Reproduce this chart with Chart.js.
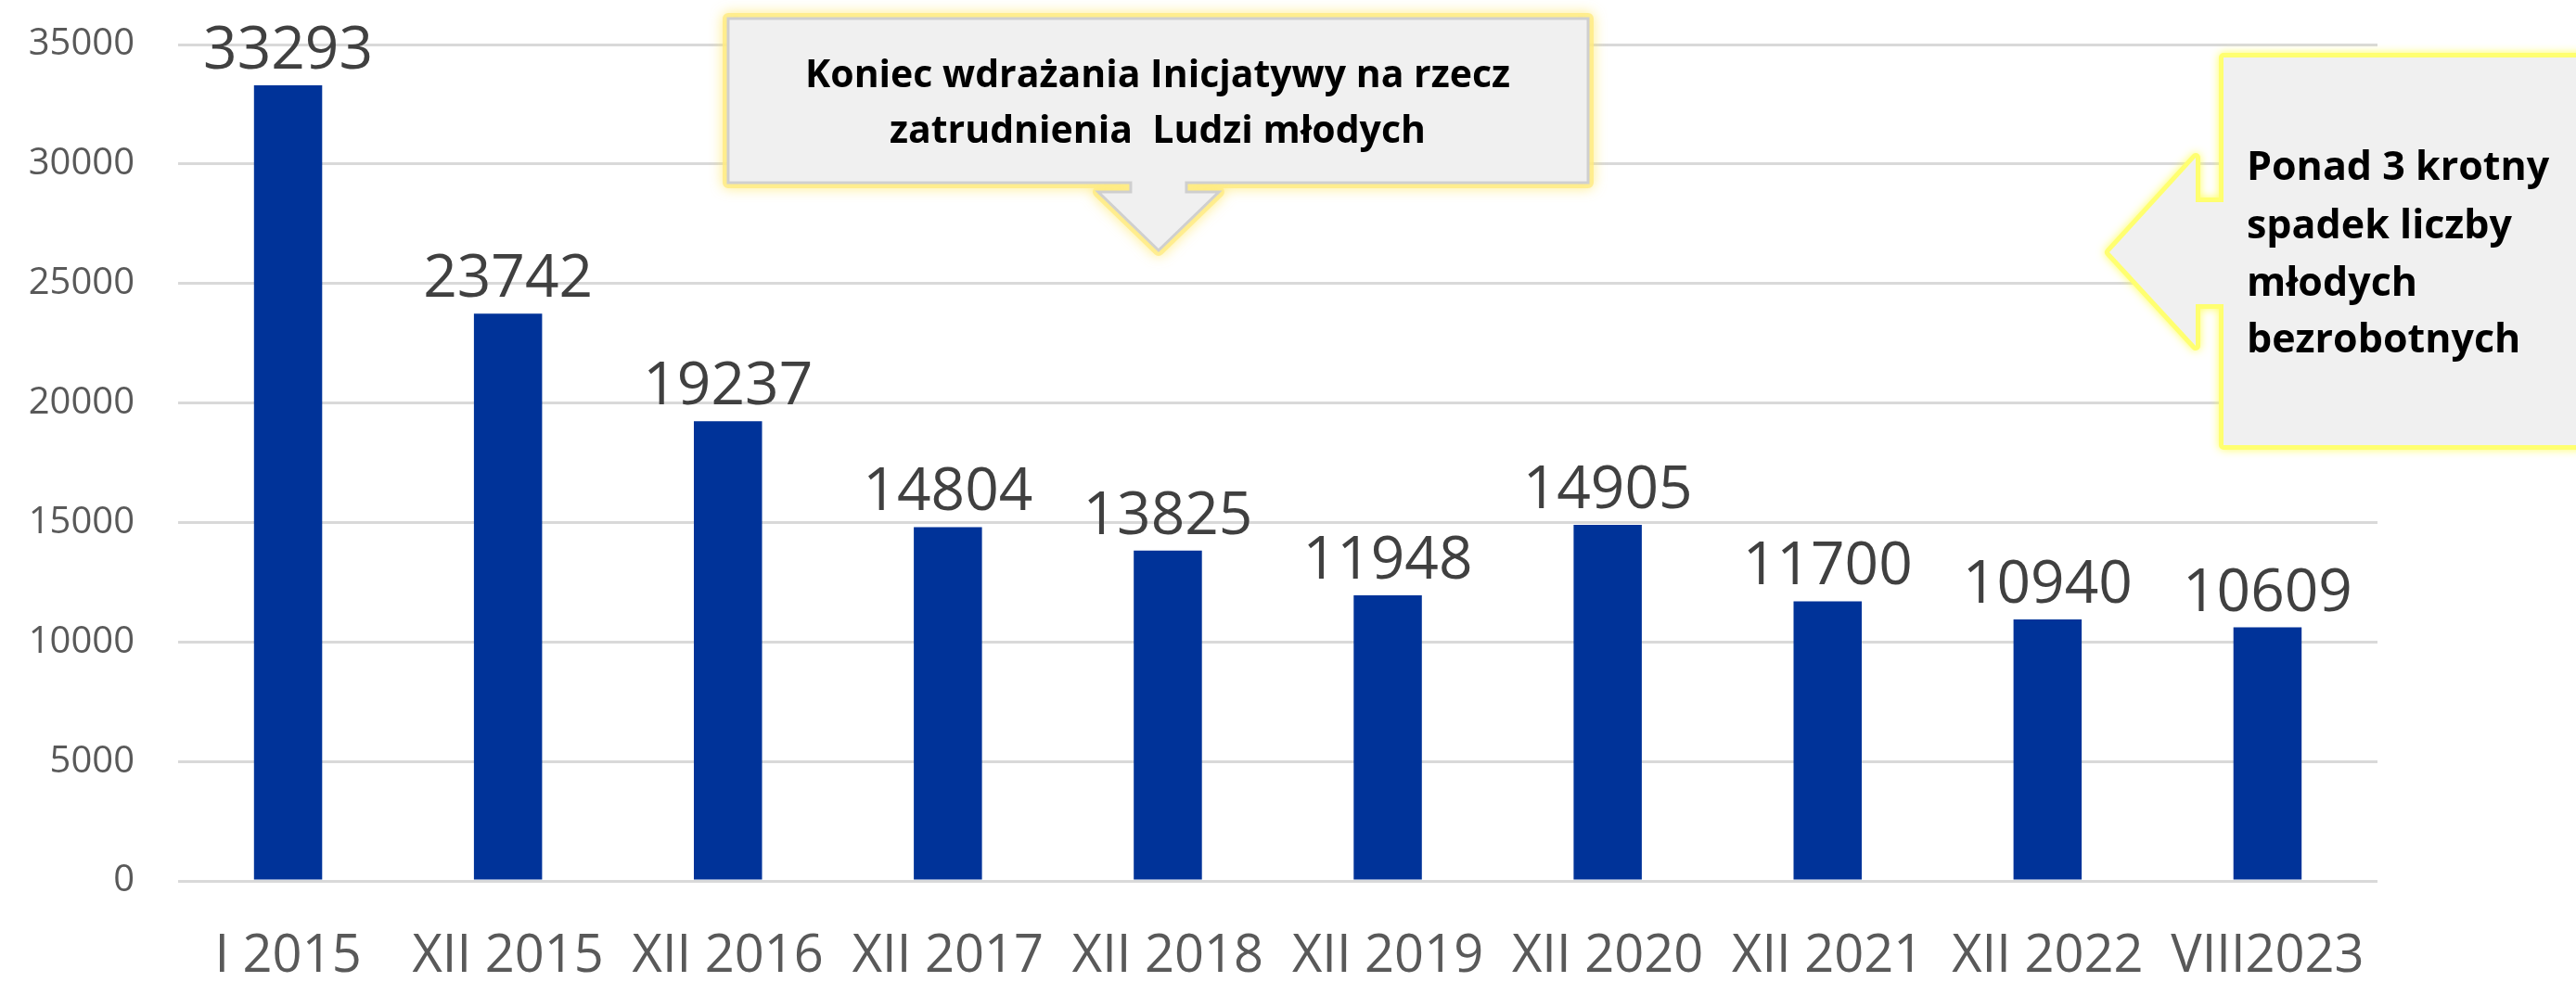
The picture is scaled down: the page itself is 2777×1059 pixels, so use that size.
<!DOCTYPE html>
<html>
<head>
<meta charset="utf-8">
<script src="https://cdn.jsdelivr.net/npm/chart.js@4/dist/chart.umd.min.js"></script>
<style>
  html, body { margin: 0; padding: 0; background: #ffffff; }
  #wrap { width: 2777px; height: 1059px; }
</style>
</head>
<body>
<div id="wrap"><canvas id="chart-bezrobotni" width="2777" height="1059"></canvas></div>
<script>
const kategorie = ["I 2015", "XII 2015", "XII 2016", "XII 2017", "XII 2018", "XII 2019", "XII 2020", "XII 2021", "XII 2022", "VIII2023"];
const liczbaBezrobotnych = [33293, 23742, 19237, 14804, 13825, 11948, 14905, 11700, 10940, 10609];
const ticksY = [0, 5000, 10000, 15000, 20000, 25000, 30000, 35000];

const FONT = "'Open Sans', 'Noto Sans', sans-serif";

const tekstDymek1 = ["Koniec wdrażania Inicjatywy na rzecz", "zatrudnienia  Ludzi młodych"];
const tekstDymek2 = ["Ponad 3 krotny", "spadek liczby", "młodych", "bezrobotnych"];

// dobiera rozmiar czcionki tak, zeby tekst mial zadana szerokosc
function fitFont(ctx, text, width, weight) {
    ctx.font = weight + " 100px " + FONT;
    const w = ctx.measureText(text).width;
    return Math.round(100 * width / w);
}

const etykietyPlugin = {
    id: "etykiety",
    afterDatasetsDraw(chart) {
        const ctx = chart.ctx;
        const meta = chart.getDatasetMeta(0);
        ctx.save();
        ctx.fillStyle = "#404040";
        ctx.textAlign = "center";
        ctx.textBaseline = "alphabetic";
        ctx.font = "64px " + FONT;
        meta.data.forEach((bar, i) => {
            ctx.fillText(String(chart.data.datasets[0].data[i]), bar.x, bar.y - 18);
        });
        ctx.restore();
    }
};

const dymkiPlugin = {
    id: "dymki",
    afterDraw(chart) {
        const ctx = chart.ctx;
        const tipX = chart.scales.x.getPixelForValue(4) - 10;

        // dymek 1 - strzalka w dol
        const b1 = { l: 785, r: 1712, t: 20, b: 197 };
        const path1 = () => {
            ctx.beginPath();
            ctx.moveTo(b1.l, b1.t);
            ctx.lineTo(b1.r, b1.t);
            ctx.lineTo(b1.r, b1.b);
            ctx.lineTo(tipX + 30, b1.b);
            ctx.lineTo(tipX + 30, b1.b + 10);
            ctx.lineTo(tipX + 65, b1.b + 10);
            ctx.lineTo(tipX, b1.b + 73);
            ctx.lineTo(tipX - 65, b1.b + 10);
            ctx.lineTo(tipX - 30, b1.b + 10);
            ctx.lineTo(tipX - 30, b1.b);
            ctx.lineTo(b1.l, b1.b);
            ctx.closePath();
        };
        ctx.save();
        ctx.shadowColor = "rgba(255, 230, 90, 0.9)";
        ctx.shadowBlur = 14;
        path1();
        ctx.lineJoin = "round";
        ctx.strokeStyle = "rgba(255, 235, 130, 0.8)";
        ctx.lineWidth = 12;
        ctx.stroke();
        ctx.restore();
        ctx.save();
        path1();
        ctx.fillStyle = "#f0f0f0";
        ctx.fill();
        ctx.strokeStyle = "#cfcfcf";
        ctx.lineWidth = 3;
        ctx.stroke();
        ctx.fillStyle = "#000000";
        ctx.textAlign = "center";
        ctx.textBaseline = "middle";
        const s1 = fitFont(ctx, tekstDymek1[0], 761, "bold");
        ctx.font = "bold " + s1 + "px " + FONT;
        ctx.fillText(tekstDymek1[0], 1248, 82);
        ctx.fillText(tekstDymek1[1], 1248, 142);
        ctx.restore();

        // dymek 2 - strzalka w lewo
        const b2 = { l: 2397, r: 2800, t: 62, b: 480 };
        const path2 = () => {
            ctx.beginPath();
            ctx.moveTo(b2.l, b2.t);
            ctx.lineTo(b2.r, b2.t);
            ctx.lineTo(b2.r, b2.b);
            ctx.lineTo(b2.l, b2.b);
            ctx.lineTo(b2.l, 328);
            ctx.lineTo(2367, 328);
            ctx.lineTo(2367, 373);
            ctx.lineTo(2274, 272);
            ctx.lineTo(2367, 170);
            ctx.lineTo(2367, 218);
            ctx.lineTo(b2.l, 218);
            ctx.closePath();
        };
        ctx.save();
        ctx.shadowColor = "rgba(255, 255, 80, 0.9)";
        ctx.shadowBlur = 10;
        path2();
        ctx.lineJoin = "round";
        ctx.strokeStyle = "#ffff70";
        ctx.lineWidth = 10;
        ctx.stroke();
        ctx.restore();
        ctx.save();
        path2();
        ctx.fillStyle = "#f0f0f0";
        ctx.fill();
        ctx.fillStyle = "#000000";
        ctx.textAlign = "left";
        ctx.textBaseline = "middle";
        const s2 = fitFont(ctx, tekstDymek2[3], 298, "bold");
        ctx.font = "bold " + s2 + "px " + FONT;
        const linie = [182, 245, 307, 368];
        tekstDymek2.forEach((t, i) => ctx.fillText(t, 2422, linie[i]));
        ctx.restore();
    }
};

const wykres = document.getElementById("chart-bezrobotni");

const dataWykres = {
    labels: kategorie,
    datasets: [
        {
            label: "Liczba młodych bezrobotnych",
            data: liczbaBezrobotnych,
            backgroundColor: "#003399",
            barPercentage: 0.31,
            categoryPercentage: 1,
        },
    ],
};

const configWykres = {
    type: "bar",
    data: dataWykres,
    options: {
        responsive: false,
        animation: false,
        layout: {
            padding: { left: 0, right: 214, top: 48, bottom: 0 },
        },
        plugins: {
            legend: { display: false },
            tooltip: { enabled: false },
        },
        scales: {
            x: {
                grid: { display: false, drawTicks: false },
                border: { display: false },
                ticks: {
                    color: "#595959",
                    font: { family: FONT, size: 56 },
                    padding: 48,
                    maxRotation: 0,
                    autoSkip: false,
                },
                afterFit(scale) { scale.height = 109; },
            },
            y: {
                min: 0,
                max: 35000,
                afterBuildTicks(scale) {
                    scale.ticks = ticksY.map(v => ({ value: v }));
                },
                // odstep etykiet przez niewidoczne kreski, bo padding przesuwa gore wykresu
                grid: { color: "#d9d9d9", lineWidth: 3, drawTicks: true, tickLength: 47, tickColor: "rgba(0,0,0,0)" },
                border: { display: false },
                ticks: {
                    color: "#595959",
                    font: { family: FONT, size: 40 },
                    padding: 0,
                    callback: (v) => String(v),
                },
                afterFit(scale) { scale.width = 192; },
            },
        },
    },
    plugins: [etykietyPlugin, dymkiPlugin],
};

new Chart(wykres, configWykres);
</script>
</body>
</html>
